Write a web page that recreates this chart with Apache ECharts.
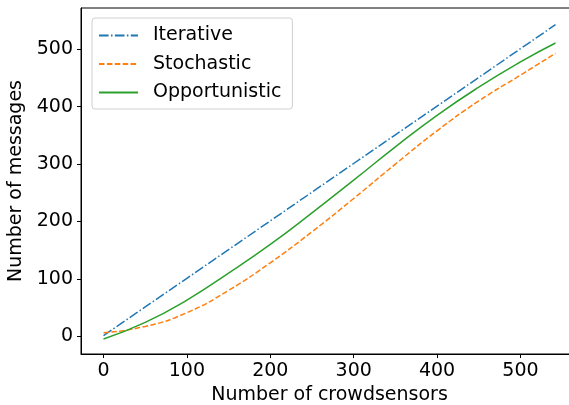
<!DOCTYPE html>
<html>
<head>
<meta charset="utf-8">
<script src="https://cdn.jsdelivr.net/npm/echarts@6/dist/echarts.min.js"></script>
<style>
html, body { margin: 0; padding: 0; background: #fff; }
#chart { width: 569px; height: 405px; }
</style>
</head>
<body>
<div id="chart"></div>
<script>
var sensors = [0, 50, 100, 150, 200, 250, 300, 350, 400, 450, 500, 542];
var iterative = [1, 51, 101, 151, 201, 251, 301, 351, 401, 451, 501, 543];
var stochastic = [6, 17, 41, 80, 128, 182, 240, 300, 358, 410, 455, 493];
var opportunistic = [-5, 24, 63, 110, 160, 215, 272, 330, 385, 434, 478, 511];
var xTicks = [0, 100, 200, 300, 400, 500];
var yTicks = [0, 100, 200, 300, 400, 500];

function pairs(ys) {
    var out = [];
    for (var i = 0; i < sensors.length; i++) {
        out.push([sensors[i], ys[i]]);
    }
    return out;
}

var font = 'DejaVu Sans';

var option = {
    backgroundColor: '#fff',
    animation: false,
    grid: {
        left: 81, top: 8, width: 497, height: 346,
        outerBoundsMode: 'none',
        show: true, borderColor: '#000', borderWidth: 1
    },
    legend: {
        orient: 'vertical',
        left: 92, top: 18,
        padding: [8, 11, 7, 6],
        itemWidth: 39, itemHeight: 14, itemGap: 9.5,
        backgroundColor: 'rgba(255,255,255,0.8)',
        borderColor: '#d0d0d0', borderWidth: 1, borderRadius: 3,
        itemStyle: { opacity: 0 },
        textStyle: { fontFamily: font, fontSize: 19, color: '#000', padding: [0, 0, 0, 10] },
        data: ['Iterative', 'Stochastic', 'Opportunistic']
    },
    xAxis: {
        type: 'value', min: -27, max: 569,
        name: 'Number of crowdsensors', nameLocation: 'middle', nameGap: 27,
        nameTextStyle: { fontFamily: font, fontSize: 19, color: '#000' },
        axisLine: { show: true, onZero: false, lineStyle: { color: '#000', width: 1 } },
        axisTick: { show: true, length: 4, customValues: xTicks, lineStyle: { color: '#000' } },
        axisLabel: { customValues: xTicks, margin: 8, fontFamily: font, fontSize: 19, color: '#000' },
        splitLine: { show: false }
    },
    yAxis: {
        type: 'value', min: -31, max: 572,
        name: 'Number of messages', nameLocation: 'middle', nameGap: 40,
        nameTextStyle: { fontFamily: font, fontSize: 19, color: '#000' },
        axisLine: { show: true, onZero: false, lineStyle: { color: '#000', width: 1 } },
        axisTick: { show: true, length: 4, customValues: yTicks, lineStyle: { color: '#000' } },
        axisLabel: { customValues: yTicks, margin: 8, fontFamily: font, fontSize: 19, color: '#000' },
        splitLine: { show: false }
    },
    series: [
        {
            name: 'Iterative', type: 'line', showSymbol: false, symbol: 'none',
            data: pairs(iterative),
            lineStyle: { color: '#1f77b4', width: 1.5, type: [9.6, 2.4, 1.5, 2.4] },
            itemStyle: { color: '#1f77b4' }
        },
        {
            name: 'Stochastic', type: 'line', showSymbol: false, symbol: 'none',
            smooth: true,
            data: pairs(stochastic),
            lineStyle: { color: '#ff7f0e', width: 1.5, type: [5.5, 2.4] },
            itemStyle: { color: '#ff7f0e' }
        },
        {
            name: 'Opportunistic', type: 'line', showSymbol: false, symbol: 'none',
            smooth: true,
            data: pairs(opportunistic),
            lineStyle: { color: '#2ca02c', width: 1.5 },
            itemStyle: { color: '#2ca02c' }
        }
    ]
};

var myChart = echarts.init(document.getElementById('chart'));
myChart.setOption(option);
</script>
</body>
</html>
